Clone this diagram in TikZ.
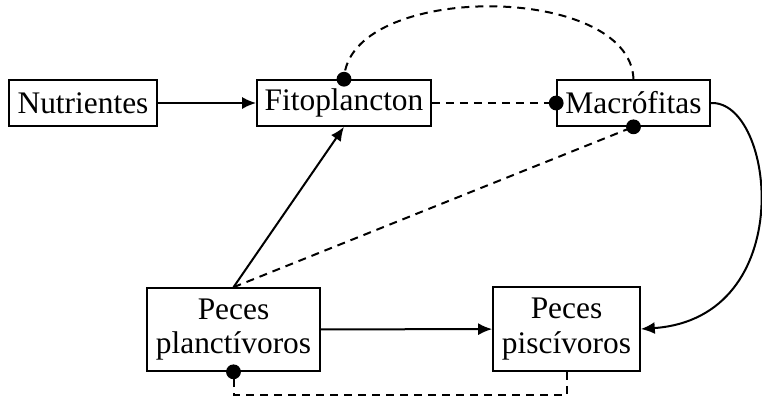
\documentclass[tikz,border=0pt]{standalone}
\usepackage{fontspec}
\setmainfont{Liberation Serif}
\usetikzlibrary{arrows.meta}
\begin{document}
\begin{tikzpicture}[x=0.5pt,y=-0.5pt,
  box/.style={draw,line width=0.8pt,inner sep=0pt,align=center,font=\fontsize{15.7}{17.2}\selectfont},
  conn/.style={line width=1pt},
  arr/.style={conn,-{Latex[length=7pt,width=6pt]}},
  dsh/.style={conn,dash pattern=on 4pt off 3pt},
  dotc/.style={fill=black}]
\useasboundingbox (0,0) rectangle (762,398);
\node[box,minimum width=74pt,minimum height=23pt] (nut) at (83,103) {Nutrientes};
\node[box,minimum width=87pt,minimum height=23pt] (fit) at (344,103) {Fitoplancton};
\node[box,minimum width=76.5pt,minimum height=23pt] (mac) at (633.5,103) {Macrófitas};
\node[box,minimum width=86.5pt,minimum height=41.5pt] (ppl) at (233.5,329.5) {Peces\\planctívoros};
\node[box,minimum width=73.5pt,minimum height=42pt] (pps) at (566.5,329) {Peces\\piscívoros};
\coordinate (bl) at (ppl.south |- 0,395);
\coordinate (br) at (pps.south |- 0,395);
% solid arrows
\draw[arr] (nut) -- (fit);
\draw[arr] (ppl.north) -- (fit.south);
\draw[arr] (ppl) -- (pps);
\draw[arr] (mac.east) .. controls (775,100) and (800,318) .. (pps.east);
% dashed links
\draw[dsh] (fit.east) -- (mac.west);
\draw[dsh] (ppl.north) -- (mac.south);
\draw[dsh] (mac.north) .. controls (630,-18) and (348,-18) .. (fit.north);
\draw[dsh] (pps.south) -- (br) -- (bl) -- (ppl.south);
% dots
\fill[dotc] (mac.west) circle (3.7pt);
\fill[dotc] (mac.south) circle (3.7pt);
\fill[dotc] (fit.north) circle (3.7pt);
\fill[dotc] (ppl.south) circle (3.7pt);
\end{tikzpicture}
\end{document}
